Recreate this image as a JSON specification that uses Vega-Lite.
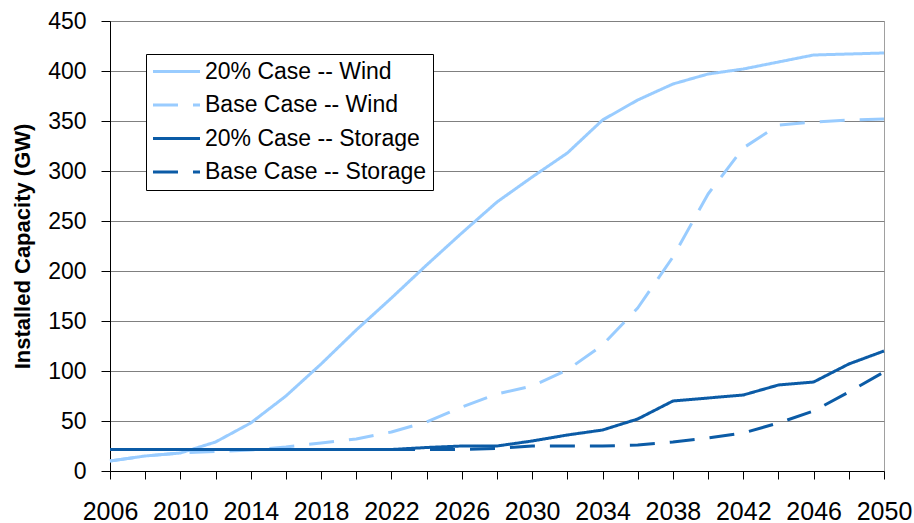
{
  "$schema": "https://vega.github.io/schema/vega-lite/v6.json",
  "width": 774,
  "height": 450,
  "autosize": {"type": "none"},
  "padding": {"left": 110, "top": 21, "right": 30, "bottom": 52},
  "background": "white",
  "config": {
    "font": "Liberation Sans",
    "view": {"stroke": "#a0a0a0", "strokeWidth": 1},
    "axis": {"labelFont": "Liberation Sans", "labelColor": "black", "titleColor": "black", "domainColor": "black", "tickColor": "black"}
  },
  "data": {
    "values": [
      {"year": 2006, "series": "20% Case -- Wind", "value": 10},
      {"year": 2008, "series": "20% Case -- Wind", "value": 15},
      {"year": 2010, "series": "20% Case -- Wind", "value": 18},
      {"year": 2012, "series": "20% Case -- Wind", "value": 29},
      {"year": 2014, "series": "20% Case -- Wind", "value": 48},
      {"year": 2016, "series": "20% Case -- Wind", "value": 75},
      {"year": 2018, "series": "20% Case -- Wind", "value": 107},
      {"year": 2020, "series": "20% Case -- Wind", "value": 141},
      {"year": 2022, "series": "20% Case -- Wind", "value": 173},
      {"year": 2024, "series": "20% Case -- Wind", "value": 206},
      {"year": 2026, "series": "20% Case -- Wind", "value": 238},
      {"year": 2028, "series": "20% Case -- Wind", "value": 269},
      {"year": 2030, "series": "20% Case -- Wind", "value": 294},
      {"year": 2032, "series": "20% Case -- Wind", "value": 318},
      {"year": 2034, "series": "20% Case -- Wind", "value": 351},
      {"year": 2036, "series": "20% Case -- Wind", "value": 371},
      {"year": 2038, "series": "20% Case -- Wind", "value": 387},
      {"year": 2040, "series": "20% Case -- Wind", "value": 397},
      {"year": 2042, "series": "20% Case -- Wind", "value": 402},
      {"year": 2044, "series": "20% Case -- Wind", "value": 409},
      {"year": 2046, "series": "20% Case -- Wind", "value": 416},
      {"year": 2048, "series": "20% Case -- Wind", "value": 417},
      {"year": 2050, "series": "20% Case -- Wind", "value": 418},

      {"year": 2006, "series": "Base Case -- Wind", "value": 10},
      {"year": 2008, "series": "Base Case -- Wind", "value": 15},
      {"year": 2010, "series": "Base Case -- Wind", "value": 18},
      {"year": 2012, "series": "Base Case -- Wind", "value": 19.5},
      {"year": 2014, "series": "Base Case -- Wind", "value": 21},
      {"year": 2016, "series": "Base Case -- Wind", "value": 24},
      {"year": 2018, "series": "Base Case -- Wind", "value": 28},
      {"year": 2020, "series": "Base Case -- Wind", "value": 32},
      {"year": 2022, "series": "Base Case -- Wind", "value": 39},
      {"year": 2024, "series": "Base Case -- Wind", "value": 49},
      {"year": 2026, "series": "Base Case -- Wind", "value": 64},
      {"year": 2028, "series": "Base Case -- Wind", "value": 77},
      {"year": 2030, "series": "Base Case -- Wind", "value": 85},
      {"year": 2032, "series": "Base Case -- Wind", "value": 101},
      {"year": 2034, "series": "Base Case -- Wind", "value": 126},
      {"year": 2036, "series": "Base Case -- Wind", "value": 163},
      {"year": 2038, "series": "Base Case -- Wind", "value": 214},
      {"year": 2040, "series": "Base Case -- Wind", "value": 277},
      {"year": 2042, "series": "Base Case -- Wind", "value": 323},
      {"year": 2044, "series": "Base Case -- Wind", "value": 346},
      {"year": 2046, "series": "Base Case -- Wind", "value": 349},
      {"year": 2048, "series": "Base Case -- Wind", "value": 351},
      {"year": 2050, "series": "Base Case -- Wind", "value": 352},

      {"year": 2006, "series": "20% Case -- Storage", "value": 21.5},
      {"year": 2008, "series": "20% Case -- Storage", "value": 21.5},
      {"year": 2010, "series": "20% Case -- Storage", "value": 21.5},
      {"year": 2012, "series": "20% Case -- Storage", "value": 21.5},
      {"year": 2014, "series": "20% Case -- Storage", "value": 21.5},
      {"year": 2016, "series": "20% Case -- Storage", "value": 21.5},
      {"year": 2018, "series": "20% Case -- Storage", "value": 21.5},
      {"year": 2020, "series": "20% Case -- Storage", "value": 21.5},
      {"year": 2022, "series": "20% Case -- Storage", "value": 21.5},
      {"year": 2024, "series": "20% Case -- Storage", "value": 23.5},
      {"year": 2026, "series": "20% Case -- Storage", "value": 25},
      {"year": 2028, "series": "20% Case -- Storage", "value": 25},
      {"year": 2030, "series": "20% Case -- Storage", "value": 30},
      {"year": 2032, "series": "20% Case -- Storage", "value": 36},
      {"year": 2034, "series": "20% Case -- Storage", "value": 41},
      {"year": 2036, "series": "20% Case -- Storage", "value": 52},
      {"year": 2038, "series": "20% Case -- Storage", "value": 70},
      {"year": 2040, "series": "20% Case -- Storage", "value": 73},
      {"year": 2042, "series": "20% Case -- Storage", "value": 76},
      {"year": 2044, "series": "20% Case -- Storage", "value": 86},
      {"year": 2046, "series": "20% Case -- Storage", "value": 89},
      {"year": 2048, "series": "20% Case -- Storage", "value": 107},
      {"year": 2050, "series": "20% Case -- Storage", "value": 120},

      {"year": 2006, "series": "Base Case -- Storage", "value": 21.5},
      {"year": 2008, "series": "Base Case -- Storage", "value": 21.5},
      {"year": 2010, "series": "Base Case -- Storage", "value": 21.5},
      {"year": 2012, "series": "Base Case -- Storage", "value": 21.5},
      {"year": 2014, "series": "Base Case -- Storage", "value": 21.5},
      {"year": 2016, "series": "Base Case -- Storage", "value": 21.5},
      {"year": 2018, "series": "Base Case -- Storage", "value": 21.5},
      {"year": 2020, "series": "Base Case -- Storage", "value": 21.5},
      {"year": 2022, "series": "Base Case -- Storage", "value": 21.5},
      {"year": 2024, "series": "Base Case -- Storage", "value": 21.5},
      {"year": 2026, "series": "Base Case -- Storage", "value": 21.5},
      {"year": 2028, "series": "Base Case -- Storage", "value": 22.5},
      {"year": 2030, "series": "Base Case -- Storage", "value": 25},
      {"year": 2032, "series": "Base Case -- Storage", "value": 25},
      {"year": 2034, "series": "Base Case -- Storage", "value": 25},
      {"year": 2036, "series": "Base Case -- Storage", "value": 26},
      {"year": 2038, "series": "Base Case -- Storage", "value": 29},
      {"year": 2040, "series": "Base Case -- Storage", "value": 33},
      {"year": 2042, "series": "Base Case -- Storage", "value": 38},
      {"year": 2044, "series": "Base Case -- Storage", "value": 48},
      {"year": 2046, "series": "Base Case -- Storage", "value": 60},
      {"year": 2048, "series": "Base Case -- Storage", "value": 79},
      {"year": 2050, "series": "Base Case -- Storage", "value": 99}
    ]
  },
  "mark": {"type": "line", "strokeWidth": 3, "strokeCap": "butt", "strokeJoin": "round"},
  "encoding": {
    "x": {
      "field": "year",
      "type": "quantitative",
      "scale": {"domain": [2006, 2050], "nice": false, "zero": false},
      "axis": {
        "title": null,
        "values": [2006, 2008, 2010, 2012, 2014, 2016, 2018, 2020, 2022, 2024, 2026, 2028, 2030, 2032, 2034, 2036, 2038, 2040, 2042, 2044, 2046, 2048, 2050],
        "labelExpr": "(datum.value - 2006) % 4 == 0 ? '' + datum.value : ''",
        "labelFontSize": 25,
        "labelPadding": 20,
        "tickSize": 8,
        "grid": false,
        "labelOverlap": false,
        "labelFlush": false
      }
    },
    "y": {
      "field": "value",
      "type": "quantitative",
      "scale": {"domain": [0, 450], "nice": false},
      "axis": {
        "title": "Installed Capacity (GW)",
        "titleFontSize": 22,
        "titleFontWeight": "bold",
        "titleFont": "Liberation Sans",
        "titleAngle": 270,
        "titleX": -88,
        "titleY": 225,
        "titleAlign": "center",
        "titleBaseline": "middle",
        "values": [0, 50, 100, 150, 200, 250, 300, 350, 400, 450],
        "labelFontSize": 23,
        "labelPadding": 15,
        "tickSize": 9,
        "grid": true,
        "gridColor": "#808080",
        "gridWidth": 1
      }
    },
    "color": {
      "field": "series",
      "type": "nominal",
      "sort": ["20% Case -- Wind", "Base Case -- Wind", "20% Case -- Storage", "Base Case -- Storage"],
      "scale": {
        "domain": ["20% Case -- Wind", "Base Case -- Wind", "20% Case -- Storage", "Base Case -- Storage"],
        "range": ["#99CCFF", "#99CCFF", "#0B5BA6", "#0B5BA6"]
      },
      "legend": {
        "title": null,
        "orient": "none",
        "legendX": 36,
        "legendY": 33,
        "strokeColor": "black",
        "fillColor": "white",
        "padding": 6,
        "symbolType": "M-2.8,0L2.8,0",
        "symbolSize": 282,
        "symbolOffset": 13,
        "symbolStrokeWidth": 3,
        "labelFontSize": 23,
        "labelFont": "Liberation Sans",
        "labelColor": "black",
        "labelOffset": 17,
        "rowPadding": 9.5,
        "labelLimit": 400
      }
    },
    "strokeDash": {
      "field": "series",
      "type": "nominal",
      "sort": ["20% Case -- Wind", "Base Case -- Wind", "20% Case -- Storage", "Base Case -- Storage"],
      "scale": {
        "domain": ["20% Case -- Wind", "Base Case -- Wind", "20% Case -- Storage", "Base Case -- Storage"],
        "range": [[1, 0], [25, 15], [1, 0], [25, 15]]
      },
      "legend": null
    },
    "order": {"field": "year", "type": "quantitative"}
  }
}
